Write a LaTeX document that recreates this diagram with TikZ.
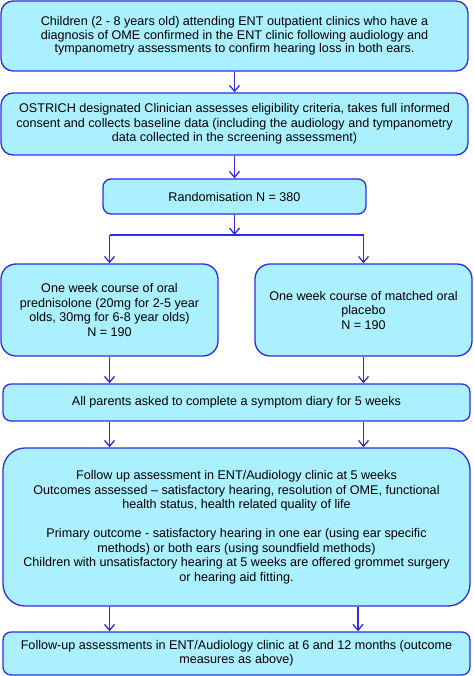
\documentclass[tikz,border=0pt]{standalone}
\usepackage{fontspec}
\setmainfont{Liberation Sans}
\usetikzlibrary{arrows.meta}
\definecolor{boxfill}{RGB}{170,240,255}
\definecolor{boxline}{RGB}{45,45,230}
\begin{document}
\begin{tikzpicture}[x=1pt,y=-1pt,
  box/.style={draw=boxline,fill=boxfill,line width=1.3pt,rounded corners=12pt,align=center,inner sep=0pt,
    font=\fontsize{12.6}{14.5}\selectfont},
  arr/.style={draw=boxline,line width=1.3pt,-{Straight Barb[length=6pt,width=10pt,line width=1.3pt]}},
  ln/.style={draw=boxline,line width=1.3pt}]
\useasboundingbox (0,0) rectangle (473,676);
\node[box,minimum width=467pt,minimum height=70pt,font=\fontsize{12.6}{13.3}\selectfont] (b1) at (234.5,36)
 {Children (2 - 8 years old) attending ENT outpatient clinics who have a\\
  diagnosis of OME confirmed in the ENT clinic following audiology and\\
  tympanometry assessments to confirm hearing loss in both ears.};
\node[box,minimum width=467pt,minimum height=62pt] (b2) at (234.5,124)
 {OSTRICH designated Clinician assesses eligibility criteria, takes full informed\\
  consent and collects baseline data (including the audiology and tympanometry\\
  data collected in the screening assessment)};
\node[box,minimum width=263pt,minimum height=35pt,rounded corners=8pt] (b3) at (234.5,196.5) {Randomisation N = 380};
\node[box,minimum width=217pt,minimum height=92pt,rounded corners=15pt] (L) at (109.5,310)
 {One week course of oral\\ prednisolone (20mg for 2-5 year\\ olds, 30mg for 6-8 year olds)\\ N = 190};
\node[box,minimum width=217pt,minimum height=92pt,rounded corners=15pt] (R) at (363.5,310)
 {One week course of matched oral\\ placebo\\ N = 190};
\node[box,minimum width=467pt,minimum height=37pt,rounded corners=8pt] (S) at (236.5,402.5)
 {All parents asked to complete a symptom diary for 5 weeks};
\node[box,minimum width=467pt,minimum height=158pt,rounded corners=22pt] (F) at (236.5,527)
 {Follow up assessment in ENT/Audiology clinic at 5 weeks\\
  Outcomes assessed -- satisfactory hearing, resolution of OME, functional\\
  health status, health related quality of life\\[14.5pt]
  Primary outcome - satisfactory hearing in one ear (using ear specific\\
  methods) or both ears (using soundfield methods)\\
  Children with unsatisfactory hearing at 5 weeks are offered grommet surgery\\
  or hearing aid fitting.};
\node[box,minimum width=467pt,minimum height=43pt,rounded corners=8pt,font=\fontsize{12.6}{14}\selectfont] (E) at (236.5,653.5)
 {Follow-up assessments in ENT/Audiology clinic at 6 and 12 months (outcome\\
  measures as above)};
\coordinate (split) at (234.5,235);
\coordinate (rfin) at (358,0);
\draw[arr] (b1.south) -- (b2.north);
\draw[arr] (b2.south) -- (b3.north);
\draw[arr] (b3.south) -- (split);
\draw[ln] (split -| L) -- (split -| R);
\draw[arr] (split -| L) -- (L.north);
\draw[arr] (split -| R) -- (R.north);
\draw[arr] (L.south) -- (L.south |- S.north);
\draw[arr] (R.south) -- (R.south |- S.north);
\draw[arr] (S.south -| L) -- (F.north -| L);
\draw[arr] (S.south -| R) -- (F.north -| R);
\draw[arr] (F.south -| L) -- (E.north -| L);
\draw[arr] (F.south -| rfin) -- (E.north -| rfin);
\end{tikzpicture}
\end{document}
